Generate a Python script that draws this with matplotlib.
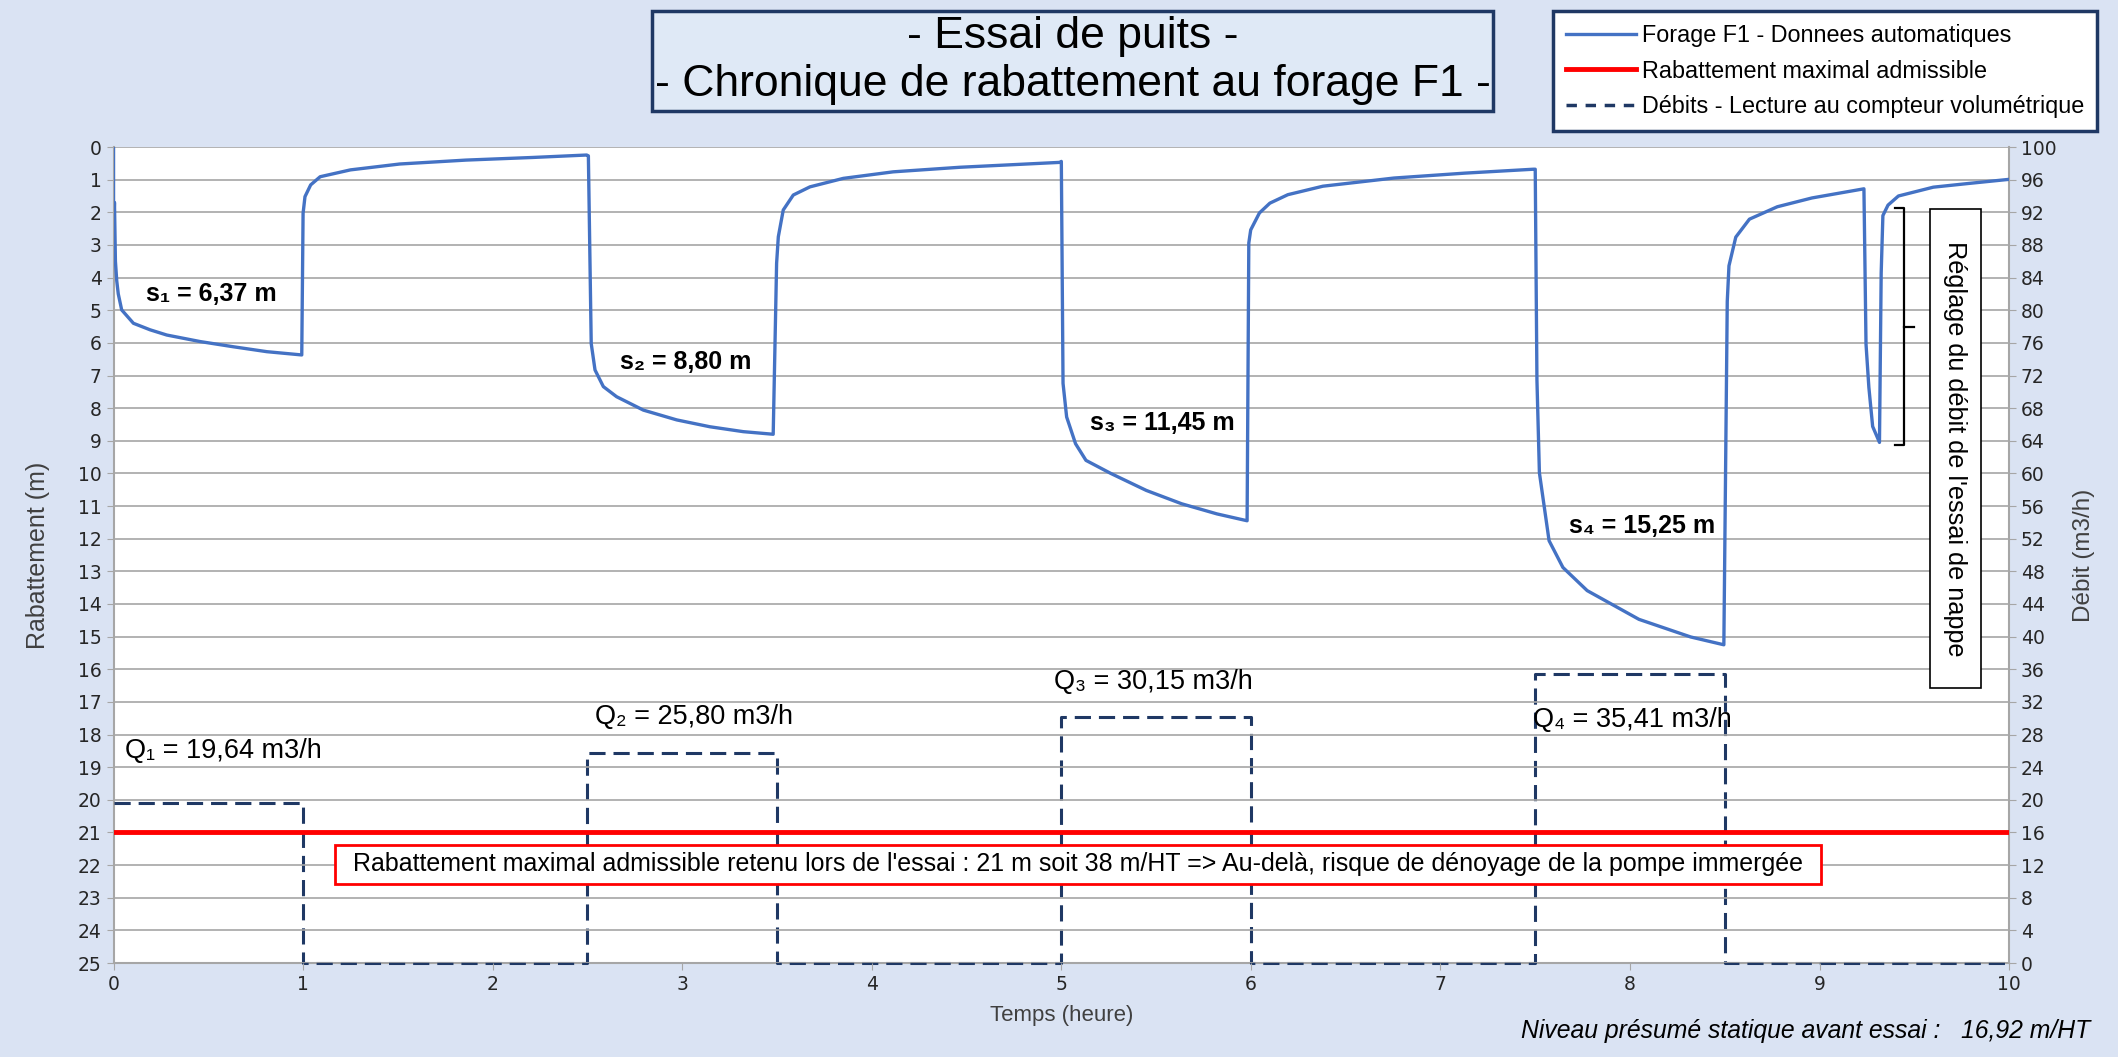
import matplotlib
matplotlib.use("Agg")
import matplotlib.pyplot as plt
from matplotlib.patches import Rectangle
from matplotlib.lines import Line2D

# ---------------- data ----------------
# automatic drawdown record at well F1 (time in hours, drawdown in m)
t_f1 = [0.0, 0.0, 0.005, 0.01, 0.017, 0.025, 0.043, 0.105, 0.193, 0.281, 0.457, 0.633, 0.809, 0.993,
        1.0, 1.01, 1.04, 1.09, 1.25, 1.51, 1.86, 2.21, 2.496,
        2.505, 2.52, 2.54, 2.584, 2.654, 2.795, 2.971, 3.146, 3.322, 3.48,
        3.498, 3.507, 3.533, 3.586, 3.674, 3.85, 4.113, 4.465, 4.817, 4.993,
        5.0, 5.009, 5.028, 5.075, 5.13, 5.261, 5.448, 5.635, 5.821, 5.98,
        5.989, 5.999, 6.045, 6.1, 6.195, 6.38, 6.755, 7.128, 7.49,
        7.5, 7.509, 7.522, 7.573, 7.646, 7.774, 8.047, 8.32, 8.495,
        8.513, 8.522, 8.558, 8.63, 8.777, 8.96, 9.234,
        9.245, 9.26, 9.28, 9.316,
        9.325, 9.334, 9.361, 9.416, 9.6, 9.78, 10.0]
s_f1 = [0.0, 2.7, 1.7, 3.5, 4.1, 4.5, 4.99, 5.4, 5.6, 5.76, 5.96, 6.12, 6.27, 6.37,
        2.03, 1.52, 1.16, 0.91, 0.70, 0.52, 0.40, 0.32, 0.245,
        0.27, 6.02, 6.83, 7.34, 7.65, 8.06, 8.36, 8.57, 8.72, 8.80,
        3.56, 2.75, 1.93, 1.47, 1.22, 0.96, 0.76, 0.62, 0.52, 0.47,
        0.44, 7.24, 8.27, 9.09, 9.6, 10.0, 10.52, 10.93, 11.24, 11.45,
        2.94, 2.54, 2.02, 1.72, 1.46, 1.20, 0.95, 0.80, 0.68,
        0.68, 7.14, 9.98, 12.06, 12.88, 13.59, 14.47, 15.01, 15.25,
        4.73, 3.64, 2.76, 2.21, 1.83, 1.56, 1.28,
        6.04, 7.36, 8.56, 9.05,
        3.86, 2.10, 1.78, 1.50, 1.23, 1.12, 0.99]

# flow-rate steps read at the volumetric meter (m3/h)
t_q = [0, 1, 1, 2.5, 2.5, 3.5, 3.5, 5, 5, 6, 6, 7.5, 7.5, 8.5, 8.5, 10]
q_q = [19.64, 19.64, 0, 0, 25.80, 25.80, 0, 0, 30.15, 30.15, 0, 0, 35.41, 35.41, 0, 0]

s_max = 21  # maximal admissible drawdown (m)

step_labels_s = ["s\u2081 = 6,37 m", "s\u2082 = 8,80 m", "s\u2083 = 11,45 m", "s\u2084 = 15,25 m"]
step_labels_q = ["Q\u2081 = 19,64 m3/h", "Q\u2082 = 25,80 m3/h", "Q\u2083 = 30,15 m3/h", "Q\u2084 = 35,41 m3/h"]

x_ticks = list(range(0, 11))
left_ticks = list(range(0, 26))
right_ticks = list(range(0, 101, 4))

# ---------------- style ----------------
BG = "#dae3f3"
BLUE = "#4472c4"
NAVY = "#1f3864"
RED = "#ff0000"
GRID = "#a6a6a6"
SANS = ["Liberation Sans", "DejaVu Sans"]

fig = plt.figure(figsize=(21.18, 10.57), dpi=100)
fig.patch.set_facecolor(BG)
ax = fig.add_axes([0.0536, 0.0889, 0.895, 0.772])
ax2 = ax.twinx()
# left axis (drawdown curve, annotations) drawn above the flow axis
ax.set_zorder(ax2.get_zorder() + 1)
ax.patch.set_visible(False)
ax2.patch.set_facecolor("white")
ax2.patch.set_visible(True)

ax.plot(t_f1, s_f1, color=BLUE, lw=2.4, zorder=5)
ax.axhline(s_max, color=RED, lw=3.5, zorder=4)
ax.set_xlim(0, 10)
ax.set_ylim(25, 0)
ax.set_xticks(x_ticks)
ax.set_yticks(left_ticks)
ax2.set_yticks(right_ticks)
ax2.grid(False)
ax.grid(axis="y", color=GRID, lw=1.2, zorder=0)
ax.set_axisbelow(True)
for sp in ax.spines.values():
    sp.set_visible(False)
ax2.spines["top"].set_visible(False)
for sp in ["left", "right", "bottom"]:
    ax2.spines[sp].set_color(GRID)
    ax2.spines[sp].set_linewidth(1.5)
ax.tick_params(axis="both", labelsize=13.5, length=5, color=GRID, labelcolor="#262626")
ax.set_ylabel("Rabattement (m)", fontsize=18, family=SANS, color="#404040", labelpad=20)
ax.set_xlabel("Temps (heure)", fontsize=16, family=SANS, color="#404040", labelpad=8)

ax2.plot(t_q, q_q, color=NAVY, lw=2.2, ls=(0, (5.3, 2.6)), zorder=3, clip_on=False)
ax2.set_ylim(0, 100)
ax2.tick_params(axis="y", labelsize=13.5, length=5, color=GRID, labelcolor="#262626")
ax2.set_ylabel("Débit (m3/h)", fontsize=17.5, family=SANS, color="#404040", labelpad=12)

# step annotations
s_pos = [(0.17, 4.5), (2.67, 6.6), (5.15, 8.45), (7.68, 11.6)]
for (x, y), lab in zip(s_pos, step_labels_s):
    ax.text(x, y, lab, fontsize=18, fontweight="bold", family=SANS, va="center", ha="left", zorder=6)
q_pos = [(0.06, 18.5), (2.54, 17.45), (4.96, 16.4), (7.49, 17.55)]
for (x, y), lab in zip(q_pos, step_labels_q):
    ax.text(x, y, lab, fontsize=19.5, family=SANS, va="center", ha="left", zorder=6)

# red annotation box
ax.add_patch(Rectangle((1.17, 21.38), 7.84, 1.2, facecolor="white", edgecolor=RED, lw=2, zorder=6))
ax.text(5.09, 21.98, "Rabattement maximal admissible retenu lors de l'essai : 21 m soit 38 m/HT => Au-delà, risque de dénoyage de la pompe immergée",
        fontsize=18, family=SANS, ha="center", va="center", zorder=7)

# bracket and vertical note
bx, btop, bbot, bmid = 9.443, 1.87, 9.13, 5.5
ax.plot([9.40, bx, bx, 9.40], [btop, btop, bbot, bbot], color="black", lw=1.6, zorder=6)
ax.plot([bx, 9.50], [bmid, bmid], color="black", lw=1.6, zorder=6)
ax.add_patch(Rectangle((9.58, 1.9), 0.27, 14.68, facecolor="white", edgecolor="black", lw=1.2, zorder=6))
ax.text(9.715, 9.24, "Réglage du débit de l'essai de nappe", rotation=-90, fontsize=18.2,
        family=SANS, ha="center", va="center", zorder=7)

# title box
fig.add_artist(Rectangle((0.3078, 0.895), 0.397, 0.0946, transform=fig.transFigure,
                         facecolor="#dfe9f6", edgecolor=NAVY, lw=2.5))
fig.text(0.5064, 0.9655, "- Essai de puits -", fontsize=32, family=SANS, ha="center", va="center")
fig.text(0.5064, 0.9196, "- Chronique de rabattement au forage F1 -", fontsize=32, family=SANS, ha="center", va="center")

# legend
handles = [Line2D([], [], color=BLUE, lw=2.4),
           Line2D([], [], color=RED, lw=3.5),
           Line2D([], [], color=NAVY, lw=2.5, ls=(0, (3, 2.5)))]
labels = ["Forage F1 - Donnees automatiques", "Rabattement maximal admissible",
          "Débits - Lecture au compteur volumétrique"]
leg = fig.legend(handles, labels, loc="upper left", bbox_to_anchor=(0.7332, 0.9896),
                 borderaxespad=0, frameon=True, fancybox=False, handlelength=3.0, handletextpad=0.25,
                 labelspacing=0.55, borderpad=0.55, prop={"family": SANS, "size": 16.8})
leg.get_frame().set_edgecolor(NAVY)
leg.get_frame().set_linewidth(2.5)
leg.get_frame().set_facecolor("white")
leg.get_frame().set_alpha(1)

fig.text(0.987, 0.013, "Niveau présumé statique avant essai :   16,92 m/HT", fontsize=17.8, style="italic",
         family=SANS, ha="right", va="bottom")

fig.savefig("out.png", dpi=100, facecolor=BG)
